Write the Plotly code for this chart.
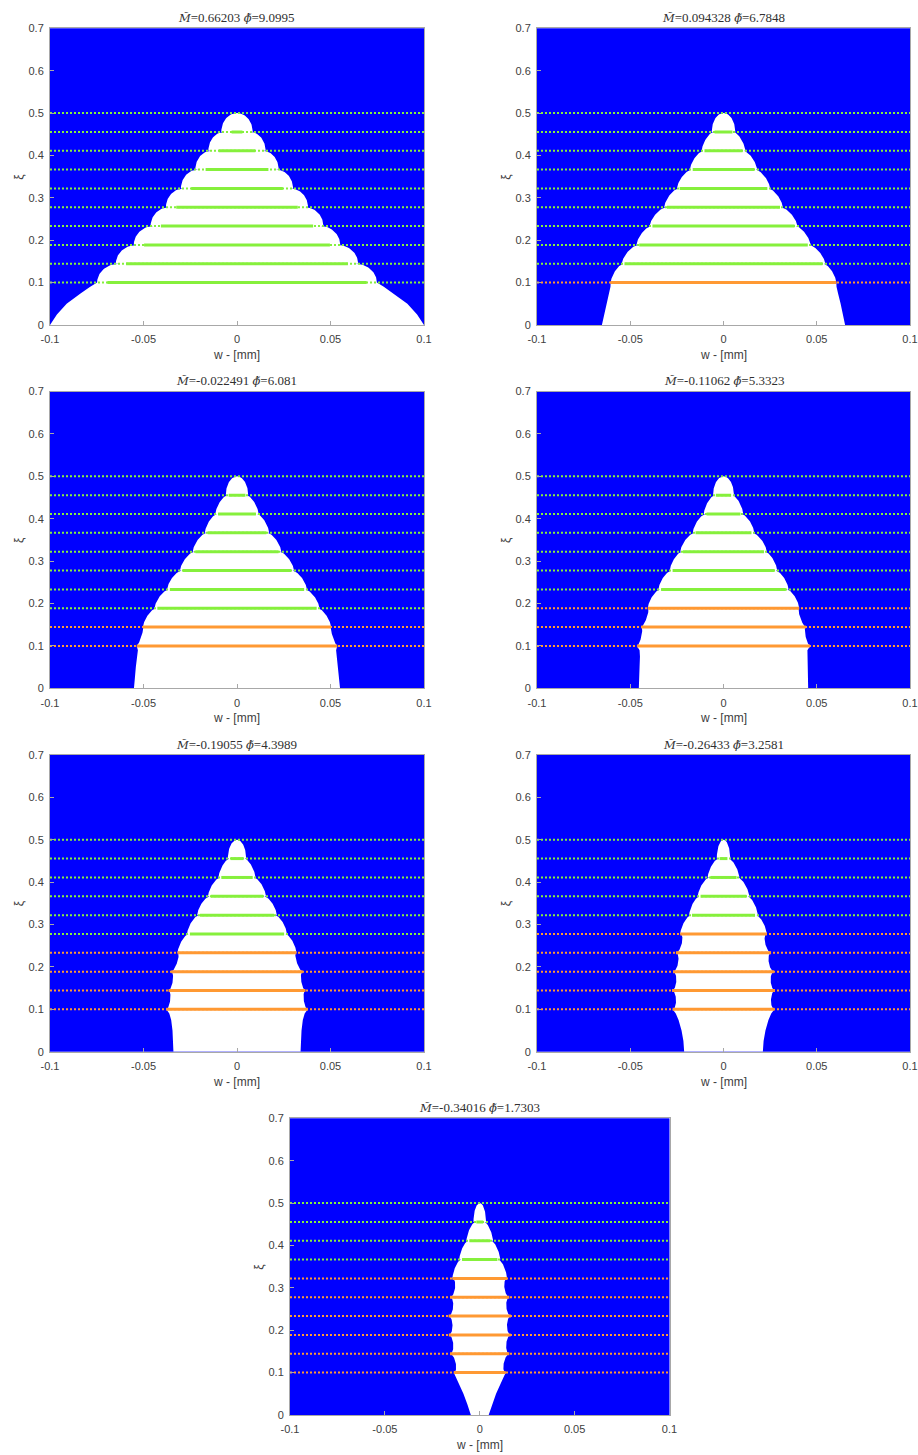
import numpy as np
import plotly.graph_objects as go

# ---------------- data ----------------
LEVELS = [0.1, 0.1444, 0.1889, 0.2333, 0.2778, 0.3222, 0.3667, 0.4111, 0.4556, 0.5]

M_VALS = [0.66203, 0.094328, -0.022491, -0.11062, -0.19055, -0.26433, -0.34016]
PHI_VALS = [9.0995, 6.7848, 6.081, 5.3323, 4.3989, 3.2581, 1.7303]
N_ORANGE = [0, 1, 2, 3, 4, 5, 6]

# half-width of the white region where each layer starts (levels 0.1 .. 0.4556)
LINE_W = [
    [0.0748, 0.0648, 0.0552, 0.0462, 0.0380, 0.0300, 0.0223, 0.0153, 0.0084],
    [0.0605, 0.0546, 0.0467, 0.0396, 0.0318, 0.0250, 0.0180, 0.0117, 0.0063],
    [0.0536, 0.0503, 0.0441, 0.0374, 0.0305, 0.0237, 0.0172, 0.0116, 0.0060],
    [0.0464, 0.0441, 0.0406, 0.0349, 0.0288, 0.0232, 0.0165, 0.0106, 0.0056],
    [0.0378, 0.0366, 0.0351, 0.0318, 0.0267, 0.0213, 0.0155, 0.0099, 0.0049],
    [0.0273, 0.0276, 0.0270, 0.0255, 0.0232, 0.0184, 0.0138, 0.0085, 0.0036],
    [0.0137, 0.0156, 0.0163, 0.0164, 0.0156, 0.0144, 0.0108, 0.0070, 0.0033],
]

# bottom part of the profile (xi from 0 to 0.1)
BASE_XI = [0.0, 0.025, 0.05, 0.075, 0.09, 0.1]
BASE_W = [
    [0.1000, 0.0963, 0.0911, 0.0835, 0.0785, 0.0748],
    [0.0652, 0.0641, 0.0628, 0.0614, 0.0606, 0.0605],
    [0.0551, 0.0546, 0.0541, 0.0535, 0.0530, 0.0536],
    [0.0454, 0.0452, 0.0450, 0.0448, 0.0450, 0.0464],
    [0.0340, 0.0342, 0.0345, 0.0352, 0.0362, 0.0378],
    [0.0211, 0.0215, 0.0225, 0.0241, 0.0256, 0.0273],
    [0.0047, 0.0065, 0.0086, 0.0111, 0.0126, 0.0137],
]

X_TICKS = [-0.1, -0.05, 0, 0.05, 0.1]
X_TICKTEXT = ["-0.1", "-0.05", "0", "0.05", "0.1"]
Y_TICKS = [0, 0.1, 0.2, 0.3, 0.4, 0.5, 0.6, 0.7]
Y_TICKTEXT = ["0", "0.1", "0.2", "0.3", "0.4", "0.5", "0.6", "0.7"]

# ---------------- shape / style parameters ----------------
DOME_P = [2.0, 1.5, 1.5, 1.5, 1.5, 1.5, 1.5]
NOTCH = [0.0015, 0.0008, 0.0008, 0.0008, 0.0008, 0.0008, 0.0008]
BUMP = [0.0, 0.0, 0.0008, 0.0012, 0.0015, 0.0020, 0.0020]
INSET = [0.0055, 0.0015, 0.0015, 0.0015, 0.0015, 0.0015, 0.0015]

W, H = 918, 1455
# plot areas in pixels: (left, right, top, bottom)
PANELS_PX = [
    (50, 424, 28.3, 325),
    (537, 910, 28.3, 325),
    (50, 424, 391.6, 688.3),
    (537, 910, 391.6, 688.3),
    (50, 424, 755, 1051.7),
    (537, 910, 755, 1051.7),
    (290, 669.5, 1118.3, 1415),
]

BLUE = "#0000FF"
GREEN = "#86F03C"
ORANGE = "#FF9933"
AXC = "#A8A8A8"
TXT = "#404040"


def profile(i):
    ys = list(BASE_XI)
    ws = list(BASE_W[i])
    t = np.linspace(0, 1, 31)
    for k in range(9):
        y0, y1 = LEVELS[k], LEVELS[k + 1]
        wb = LINE_W[i][k]
        if k == 8:
            seg = wb * np.sqrt(1 - t ** 2)
        elif (k + 1) < N_ORANGE[i]:
            wt = LINE_W[i][k + 1]
            seg = wb + (wt - wb) * t - BUMP[i] * 2 * np.sqrt(t * (1 - t))
        else:
            wt = LINE_W[i][k + 1] - NOTCH[i]
            p = DOME_P[i]
            seg = wt + (wb - wt) * (1 - t ** p) ** (1 / p)
        ys += list(y0 + (y1 - y0) * t)
        ws += list(seg)
    xs = ws + [-w for w in ws[::-1]]
    yy = ys + ys[::-1]
    return xs, yy


def sym(ch):
    return ("<span style=\"font-family:'DejaVu Serif';font-size:11.5px\"><i>"
            + ch + "\u0303</i></span>")


fig = go.Figure()
layout = dict(
    width=W, height=H, margin=dict(l=0, r=0, t=0, b=0),
    paper_bgcolor="white", plot_bgcolor=BLUE, showlegend=False,
)
annotations = []

for i, (l, r, tp, bt) in enumerate(PANELS_PX):
    xa = "x" if i == 0 else f"x{i+1}"
    ya = "y" if i == 0 else f"y{i+1}"
    xk = "xaxis" if i == 0 else f"xaxis{i+1}"
    yk = "yaxis" if i == 0 else f"yaxis{i+1}"
    xdom = [l / W, r / W]
    ydom = [1 - bt / H, 1 - tp / H]
    layout[xk] = dict(
        domain=xdom, anchor=ya, range=[-0.1, 0.1], tickvals=X_TICKS, ticktext=X_TICKTEXT,
        ticks="inside", ticklen=4, tickcolor=AXC, showline=True, mirror=True,
        linecolor=AXC, linewidth=1, showgrid=False, zeroline=False,
        tickfont=dict(family="Liberation Sans", size=11, color=TXT),
        ticklabelstandoff=4, automargin=False, fixedrange=True,
    )
    layout[yk] = dict(
        domain=ydom, anchor=xa, range=[0, 0.7], tickvals=Y_TICKS, ticktext=Y_TICKTEXT,
        ticks="inside", ticklen=4, tickcolor=AXC, showline=True, mirror=True,
        linecolor=AXC, linewidth=1, showgrid=False, zeroline=False,
        tickfont=dict(family="Liberation Sans", size=11, color=TXT),
        ticklabelstandoff=3, automargin=False, fixedrange=True,
    )

    xs, yy = profile(i)
    fig.add_trace(go.Scatter(x=xs, y=yy, xaxis=xa, yaxis=ya, mode="lines",
                             fill="toself", fillcolor="white",
                             line=dict(width=0, color="white"), hoverinfo="skip"))

    for color, idxs in ((ORANGE, range(0, N_ORANGE[i])), (GREEN, range(N_ORANGE[i], 10))):
        dx, dy, sx, sy = [], [], [], []
        for k in idxs:
            lv = LEVELS[k]
            dx += [-0.1, 0.1, None]
            dy += [lv, lv, None]
            if k < 9:
                half = LINE_W[i][k] - (0 if k < N_ORANGE[i] else INSET[i])
                if half > 0:
                    sx += [-half, half, None]
                    sy += [lv, lv, None]
        if dx:
            fig.add_trace(go.Scatter(x=dx, y=dy, xaxis=xa, yaxis=ya, mode="lines",
                                     line=dict(color=color, width=2, dash="2px,2px"),
                                     hoverinfo="skip"))
        if sx:
            fig.add_trace(go.Scatter(x=sx, y=sy, xaxis=xa, yaxis=ya, mode="lines",
                                     line=dict(color=color, width=3),
                                     hoverinfo="skip"))

    cx = (xdom[0] + xdom[1]) / 2
    cy = (ydom[0] + ydom[1]) / 2
    annotations.append(dict(
        x=cx, y=ydom[1], xref="paper", yref="paper", yshift=11, showarrow=False,
        xanchor="center", yanchor="middle",
        text=f"{sym('M')}={M_VALS[i]:g} {sym(chr(0x3d5))}={PHI_VALS[i]:g}",
        font=dict(family="Liberation Serif", size=13, color="#303030"),
    ))
    annotations.append(dict(
        x=cx, y=ydom[0], xref="paper", yref="paper", yshift=-30, showarrow=False,
        xanchor="center", yanchor="middle", text="w - [mm]",
        font=dict(family="Liberation Sans", size=12, color=TXT),
    ))
    annotations.append(dict(
        x=xdom[0], y=cy, xref="paper", yref="paper", xshift=-31, showarrow=False,
        xanchor="center", yanchor="middle", text="\u03be", textangle=-90,
        font=dict(family="Liberation Sans", size=12, color=TXT),
    ))

layout["annotations"] = annotations
fig.update_layout(**layout)
fig.write_html("out.html", config={"displayModeBar": False},
               post_script="document.body.style.margin='0px';document.body.style.overflow='hidden';")
